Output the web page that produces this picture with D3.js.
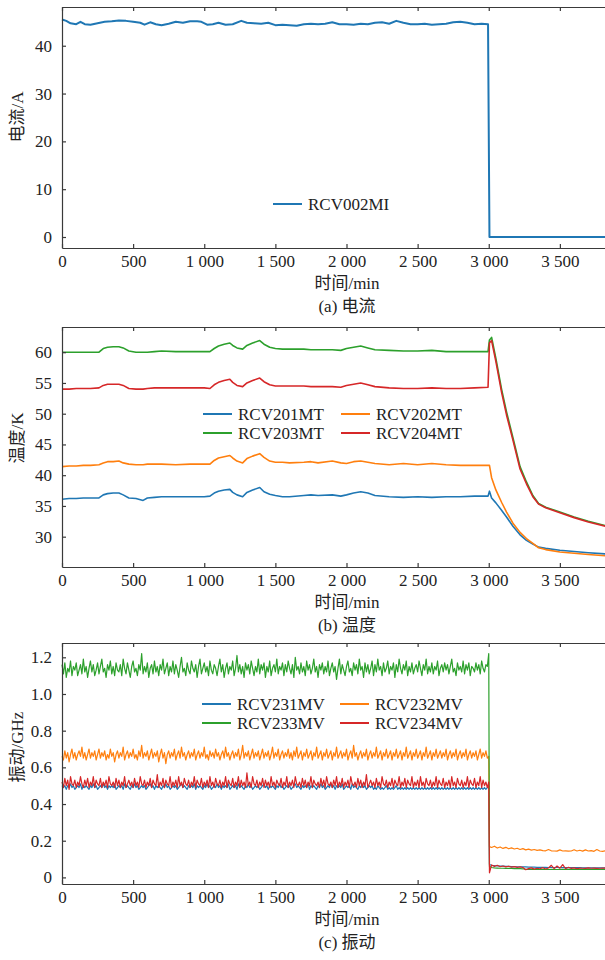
<!DOCTYPE html>
<html>
<head>
<meta charset="utf-8">
<script src="https://cdn.jsdelivr.net/npm/d3@7"></script>
<style>
body{margin:0;background:#fff;}
svg{display:block;font-family:"Liberation Serif","Times New Roman","Noto Sans CJK SC",serif;}
</style>
</head>
<body>
<script>
// ---- shared ticks ----
var xTicks = [0, 500, 1000, 1500, 2000, 2500, 3000, 3500];
var yTicksA = [0, 10, 20, 30, 40];
var yTicksB = [30, 35, 40, 45, 50, 55, 60];
var yTicksC = [0, 0.2, 0.4, 0.6, 0.8, 1.0, 1.2];

// ---- (a) current ----
var timeA = [0,30,60,100,130,160,200,250,300,350,400,450,500,550,580,620,660,700,750,800,
  850,900,950,980,1020,1060,1100,1150,1200,1260,1300,1350,1400,1450,1500,1550,1600,1650,1700,1750,
  1800,1850,1900,1950,2000,2050,2100,2150,2200,2250,2300,2350,2400,2450,2500,2550,2600,2650,2700,2750,
  2800,2850,2900,2950,2995,3005,3820];
var rcv002mi = [45.5,45.2,44.7,44.5,45.0,44.5,44.4,44.7,45.0,45.1,45.3,45.2,45.0,44.8,44.4,44.9,44.5,44.3,44.6,45.0,
  44.8,45.1,45.1,45.0,44.4,44.5,44.8,44.4,44.5,45.2,44.8,44.7,44.6,44.8,44.3,44.4,44.3,44.2,44.5,44.6,
  44.5,44.6,44.9,44.5,44.5,44.4,44.6,44.5,44.8,44.9,44.6,45.2,44.8,44.5,44.5,44.6,44.4,44.5,44.6,44.9,
  45.0,44.8,44.5,44.6,44.5,0,0];

// ---- (b) temperature ----
var timeB = [0,50,100,150,200, 260,290,320,360,400, 430,470,520,570,600, 650,700,800,900,1000,
  1040,1070,1100,1140,1180, 1200,1230,1270,1300,1340, 1390,1420,1460,1500,1550, 1600,1700,1750,1800,1900,
  1960,2000,2050,2100,2150, 2200,2300,2400,2500,2600, 2700,2800,2900,2995,3005, 3020,3050,3090,3125,3170,
  3220,3265,3310,3350,3400, 3500,3600,3700,3820];
var rcv201mt = [36.1,36.2,36.2,36.3,36.3, 36.3,36.8,37.0,37.1,37.1, 36.8,36.3,36.2,35.9,36.3, 36.4,36.5,36.5,36.5,36.5,
  36.6,37.1,37.4,37.6,37.7, 37.2,36.8,36.5,37.2,37.6, 38.0,37.3,36.9,36.7,36.5, 36.5,36.7,36.8,36.7,36.8,
  36.6,36.8,37.1,37.3,37.1, 36.7,36.5,36.4,36.5,36.4, 36.5,36.5,36.6,36.6,37.4, 36.3,35.5,34.3,33.2,31.7,
  30.3,29.4,28.8,28.3,28.1, 27.8,27.6,27.4,27.2];
var rcv202mt = [41.4,41.5,41.5,41.6,41.6, 41.7,42.0,42.2,42.2,42.3, 42.0,41.8,41.7,41.7,41.8, 41.8,41.8,41.7,41.8,41.8,
  41.8,42.4,42.8,43.0,43.2, 42.8,42.3,42.0,42.7,43.1, 43.5,42.9,42.3,42.1,42.1, 42.0,42.1,42.2,42.0,42.3,
  42.0,41.9,42.2,42.3,42.1, 41.9,41.7,41.9,41.7,41.9, 41.7,41.6,41.6,41.6,41.6, 39.6,37.6,35.6,34.0,32.2,
  30.7,29.7,28.9,28.2,27.9, 27.5,27.3,27.1,26.9];
var rcv203mt = [60.0,60.0,60.0,60.0,60.0, 60.0,60.6,60.8,60.9,60.9, 60.7,60.2,60.0,60.0,60.0, 60.1,60.2,60.1,60.1,60.1,
  60.1,60.6,61.0,61.3,61.5, 61.1,60.7,60.5,61.1,61.5, 61.9,61.3,60.8,60.6,60.5, 60.5,60.5,60.4,60.4,60.4,
  60.3,60.6,60.8,61.0,60.7, 60.4,60.3,60.2,60.2,60.3, 60.1,60.1,60.1,60.1,62.0, 62.4,59.0,54.0,50.3,46.1,
  41.4,38.9,36.7,35.4,34.8, 34.0,33.2,32.5,31.8];
var rcv204mt = [54.0,54.0,54.1,54.1,54.1, 54.2,54.6,54.8,54.8,54.8, 54.6,54.1,54.0,54.0,54.1, 54.2,54.2,54.2,54.2,54.2,
  54.1,54.7,55.1,55.4,55.6, 55.1,54.6,54.4,55.0,55.4, 55.8,55.2,54.7,54.5,54.5, 54.5,54.5,54.4,54.4,54.4,
  54.3,54.6,54.8,55.0,54.7, 54.4,54.2,54.1,54.1,54.2, 54.1,54.1,54.2,54.3,61.5, 61.9,58.5,53.5,49.8,45.7,
  41.0,38.6,36.5,35.3,34.7, 33.9,33.1,32.4,31.7];

// ---- (c) vibration: a reading every 10 min up to 3000, every 20 min after shutdown ----
var timeC = d3.range(0, 3001, 10).concat([3005]).concat(d3.range(3020, 3821, 20));
var rcv231mv = [
  0.50,0.49,0.50,0.48,0.50,0.49,0.51,0.49,0.50,0.48, 0.49,0.50,0.49,0.51,0.48,0.50,0.49,0.50,0.49,0.48,
  0.50,0.49,0.51,0.49,0.50,0.48,0.49,0.50,0.49,0.51, 0.49,0.50,0.48,0.50,0.49,0.50,0.49,0.51,0.48,0.49,
  0.50,0.49,0.50,0.48,0.51,0.49,0.50,0.49,0.48,0.50, 0.49,0.51,0.49,0.50,0.48,0.49,0.50,0.49,0.50,0.48,
  0.49,0.50,0.51,0.49,0.50,0.48,0.50,0.49,0.50,0.49, 0.48,0.50,0.49,0.51,0.49,0.50,0.48,0.49,0.50,0.49,
  0.50,0.48,0.49,0.50,0.51,0.49,0.50,0.49,0.48,0.50, 0.49,0.50,0.49,0.51,0.48,0.50,0.49,0.50,0.49,0.48,
  0.50,0.49,0.51,0.49,0.50,0.48,0.49,0.50,0.49,0.51, 0.49,0.50,0.48,0.50,0.49,0.50,0.49,0.51,0.48,0.49,
  0.50,0.49,0.50,0.48,0.51,0.49,0.50,0.49,0.48,0.50, 0.49,0.51,0.49,0.50,0.48,0.49,0.50,0.49,0.50,0.48,
  0.49,0.50,0.51,0.49,0.50,0.48,0.50,0.49,0.50,0.49, 0.48,0.50,0.49,0.51,0.49,0.50,0.48,0.49,0.50,0.49,
  0.50,0.48,0.49,0.50,0.51,0.49,0.50,0.49,0.48,0.50, 0.49,0.50,0.49,0.51,0.48,0.50,0.49,0.50,0.49,0.48,
  0.50,0.49,0.51,0.49,0.50,0.48,0.49,0.50,0.49,0.51, 0.49,0.50,0.48,0.50,0.49,0.50,0.49,0.51,0.48,0.49,
  0.50,0.49,0.50,0.48,0.51,0.49,0.50,0.49,0.48,0.50, 0.49,0.51,0.49,0.50,0.48,0.49,0.50,0.49,0.50,0.48,
  0.49,0.48,0.50,0.49,0.48,0.49,0.48,0.49,0.50,0.48, 0.49,0.48,0.49,0.48,0.49,0.50,0.48,0.49,0.48,0.49,
  0.48,0.49,0.48,0.49,0.48,0.49,0.48,0.49,0.48,0.49, 0.48,0.49,0.48,0.49,0.48,0.49,0.48,0.49,0.48,0.49,
  0.48,0.49,0.48,0.49,0.48,0.49,0.48,0.49,0.48,0.49, 0.48,0.49,0.48,0.49,0.48,0.49,0.48,0.49,0.48,0.49,
  0.48,0.49,0.48,0.49,0.48,0.49,0.48,0.49,0.48,0.49, 0.48,0.49,0.48,0.49,0.48,0.49,0.48,0.49,0.48,0.49,
  0.50,
  0.070,0.066,0.064,0.063,0.062,0.061,0.060,0.060,0.059,0.059, 0.058,0.058,0.057,0.057,0.056,0.056,0.056,0.055,0.055,0.055,
  0.055,0.054,0.054,0.054,0.054,0.054,0.053,0.053,0.053,0.053, 0.053,0.053,0.053,0.052,0.052,0.052,0.052,0.052,0.052,0.052,
  0.052,0.052];
var rcv232mv = [
  0.66,0.64,0.69,0.65,0.68,0.63,0.67,0.70,0.65,0.68, 0.64,0.67,0.69,0.66,0.71,0.65,0.68,0.64,0.67,0.70,
  0.65,0.68,0.66,0.69,0.64,0.67,0.70,0.65,0.68,0.66, 0.69,0.64,0.67,0.65,0.70,0.66,0.68,0.63,0.67,0.69,
  0.65,0.68,0.66,0.71,0.64,0.67,0.69,0.65,0.68,0.66, 0.70,0.65,0.67,0.64,0.69,0.66,0.72,0.65,0.68,0.66,
  0.69,0.64,0.67,0.70,0.65,0.68,0.66,0.69,0.63,0.67, 0.70,0.65,0.68,0.62,0.67,0.69,0.65,0.68,0.66,0.70,
  0.64,0.67,0.69,0.65,0.71,0.66,0.68,0.64,0.67,0.69, 0.65,0.68,0.66,0.70,0.64,0.67,0.69,0.65,0.68,0.66,
  0.71,0.65,0.67,0.64,0.69,0.66,0.68,0.65,0.70,0.66, 0.68,0.64,0.67,0.69,0.65,0.71,0.66,0.68,0.64,0.67,
  0.69,0.65,0.68,0.66,0.70,0.64,0.67,0.72,0.65,0.68, 0.66,0.69,0.64,0.67,0.70,0.65,0.68,0.66,0.69,0.64,
  0.67,0.70,0.65,0.68,0.66,0.69,0.64,0.67,0.71,0.65, 0.68,0.66,0.70,0.64,0.67,0.69,0.65,0.68,0.66,0.70,
  0.65,0.68,0.64,0.69,0.66,0.71,0.65,0.67,0.69,0.64, 0.68,0.66,0.70,0.65,0.67,0.69,0.64,0.68,0.66,0.71,
  0.65,0.67,0.69,0.64,0.68,0.66,0.70,0.65,0.67,0.69, 0.64,0.68,0.66,0.71,0.65,0.67,0.69,0.65,0.68,0.66,
  0.70,0.64,0.67,0.69,0.65,0.72,0.66,0.68,0.64,0.67, 0.69,0.65,0.68,0.66,0.70,0.64,0.67,0.69,0.65,0.68,
  0.66,0.71,0.65,0.67,0.69,0.64,0.68,0.66,0.70,0.65, 0.67,0.69,0.64,0.68,0.66,0.70,0.65,0.67,0.69,0.64,
  0.68,0.66,0.71,0.65,0.67,0.69,0.64,0.68,0.66,0.70, 0.65,0.67,0.69,0.64,0.68,0.66,0.71,0.65,0.67,0.69,
  0.64,0.68,0.66,0.70,0.65,0.67,0.69,0.65,0.68,0.66, 0.70,0.64,0.67,0.69,0.65,0.68,0.66,0.70,0.64,0.67,
  0.69,0.65,0.68,0.66,0.70,0.64,0.67,0.69,0.65,0.68, 0.66,0.69,0.64,0.67,0.70,0.65,0.68,0.66,0.69,0.65,
  0.66,
  0.168,0.163,0.170,0.160,0.166,0.158,0.164,0.156,0.161,0.155, 0.159,0.152,0.157,0.150,0.154,0.149,0.152,0.147,0.150,0.146,
  0.145,0.152,0.145,0.144,0.143,0.150,0.144,0.145,0.143,0.144, 0.151,0.144,0.148,0.143,0.150,0.144,0.146,0.142,0.152,0.144,
  0.142,0.145];
var rcv233mv = [
  1.16,1.11,1.17,1.09,1.14,1.12,1.18,1.10,1.15,1.13, 1.17,1.10,1.13,1.16,1.11,1.19,1.12,1.15,1.09,1.14,
  1.18,1.12,1.16,1.10,1.13,1.17,1.11,1.15,1.19,1.12, 1.14,1.09,1.16,1.13,1.18,1.11,1.15,1.10,1.17,1.13,
  1.12,1.16,1.10,1.19,1.14,1.11,1.17,1.13,1.09,1.15, 1.18,1.12,1.14,1.10,1.16,1.13,1.22,1.11,1.15,1.12,
  1.17,1.09,1.14,1.16,1.11,1.18,1.12,1.15,1.10,1.16, 1.13,1.19,1.11,1.14,1.17,1.10,1.15,1.12,1.18,1.11,
  1.16,1.13,1.09,1.15,1.20,1.12,1.14,1.10,1.17,1.13, 1.11,1.18,1.14,1.12,1.16,1.09,1.15,1.19,1.11,1.14,
  1.17,1.12,1.15,1.10,1.18,1.13,1.11,1.16,1.14,1.10, 1.15,1.19,1.12,1.16,1.09,1.14,1.17,1.11,1.15,1.13,
  1.18,1.10,1.14,1.21,1.12,1.16,1.11,1.15,1.09,1.17, 1.13,1.16,1.11,1.18,1.14,1.10,1.15,1.12,1.19,1.11,
  1.16,1.13,1.17,1.09,1.15,1.12,1.18,1.10,1.14,1.16, 1.12,1.19,1.11,1.15,1.13,1.17,1.10,1.16,1.12,1.18,
  1.14,1.11,1.16,1.09,1.20,1.13,1.15,1.11,1.17,1.12, 1.15,1.10,1.18,1.13,1.16,1.11,1.14,1.19,1.12,1.15,
  1.09,1.16,1.13,1.17,1.11,1.15,1.12,1.18,1.10,1.14, 1.17,1.12,1.15,1.08,1.14,1.19,1.11,1.16,1.13,1.10,
  1.15,1.18,1.12,1.14,1.10,1.17,1.13,1.16,1.11,1.19, 1.13,1.15,1.09,1.17,1.12,1.16,1.11,1.14,1.18,1.10,
  1.16,1.12,1.19,1.13,1.15,1.10,1.17,1.12,1.14,1.18, 1.11,1.15,1.13,1.17,1.09,1.16,1.12,1.19,1.14,1.11,
  1.16,1.13,1.18,1.10,1.15,1.12,1.17,1.11,1.14,1.16, 1.12,1.18,1.14,1.10,1.16,1.13,1.19,1.11,1.15,1.12,
  1.17,1.11,1.15,1.13,1.18,1.10,1.14,1.16,1.12,1.17, 1.13,1.16,1.11,1.15,1.19,1.12,1.14,1.10,1.17,1.13,
  1.15,1.12,1.18,1.11,1.16,1.13,1.17,1.10,1.15,1.14, 1.12,1.17,1.13,1.16,1.11,1.18,1.14,1.12,1.16,1.15,
  1.22,
  0.060,0.054,0.052,0.051,0.050,0.050,0.049,0.049,0.049,0.048, 0.048,0.048,0.047,0.044,0.044,0.044,0.044,0.044,0.043,0.044,
  0.044,0.043,0.044,0.044,0.043,0.044,0.044,0.043,0.044,0.044, 0.043,0.044,0.044,0.043,0.044,0.044,0.043,0.044,0.044,0.043,
  0.044,0.044];
var rcv234mv = [
  0.52,0.49,0.54,0.50,0.53,0.48,0.55,0.51,0.50,0.53, 0.49,0.52,0.50,0.55,0.51,0.49,0.53,0.50,0.54,0.49,
  0.52,0.50,0.55,0.49,0.53,0.51,0.50,0.54,0.49,0.52, 0.50,0.53,0.49,0.55,0.51,0.50,0.52,0.49,0.54,0.50,
  0.53,0.49,0.52,0.50,0.55,0.49,0.51,0.53,0.50,0.52, 0.49,0.54,0.50,0.52,0.49,0.55,0.51,0.50,0.53,0.49,
  0.52,0.50,0.54,0.49,0.53,0.51,0.50,0.56,0.49,0.52, 0.50,0.54,0.49,0.53,0.51,0.50,0.55,0.49,0.52,0.50,
  0.53,0.49,0.55,0.50,0.52,0.49,0.54,0.51,0.50,0.53, 0.49,0.52,0.50,0.55,0.49,0.53,0.51,0.50,0.54,0.49,
  0.52,0.50,0.53,0.49,0.55,0.50,0.52,0.49,0.54,0.51, 0.50,0.53,0.49,0.52,0.50,0.55,0.49,0.53,0.51,0.50,
  0.54,0.49,0.52,0.50,0.55,0.49,0.53,0.50,0.52,0.49, 0.57,0.50,0.52,0.49,0.55,0.51,0.50,0.53,0.49,0.52,
  0.50,0.54,0.49,0.53,0.50,0.52,0.49,0.55,0.50,0.52, 0.49,0.53,0.51,0.50,0.54,0.49,0.52,0.50,0.55,0.49,
  0.52,0.50,0.53,0.49,0.55,0.51,0.50,0.52,0.49,0.54, 0.50,0.53,0.49,0.52,0.50,0.55,0.49,0.53,0.51,0.50,
  0.52,0.49,0.54,0.50,0.53,0.49,0.55,0.51,0.50,0.52, 0.49,0.53,0.50,0.55,0.49,0.52,0.50,0.54,0.49,0.52,
  0.50,0.53,0.49,0.55,0.51,0.50,0.52,0.49,0.54,0.50, 0.53,0.49,0.52,0.50,0.56,0.49,0.51,0.53,0.50,0.52,
  0.49,0.54,0.50,0.52,0.49,0.55,0.51,0.50,0.53,0.49, 0.52,0.50,0.54,0.49,0.53,0.51,0.50,0.55,0.49,0.52,
  0.50,0.54,0.49,0.53,0.51,0.50,0.55,0.49,0.52,0.50, 0.53,0.49,0.55,0.50,0.52,0.49,0.54,0.51,0.50,0.53,
  0.49,0.52,0.50,0.55,0.49,0.53,0.51,0.50,0.54,0.49, 0.52,0.50,0.53,0.49,0.55,0.50,0.52,0.49,0.54,0.51,
  0.50,0.53,0.49,0.52,0.50,0.55,0.49,0.53,0.51,0.50, 0.54,0.49,0.52,0.50,0.55,0.49,0.53,0.50,0.52,0.49,
  0.52,
  0.025,0.068,0.060,0.066,0.058,0.062,0.057,0.061,0.056,0.059, 0.055,0.057,0.054,0.042,0.048,0.052,0.045,0.050,0.047,0.053,
  0.046,0.051,0.066,0.048,0.062,0.050,0.070,0.047,0.055,0.049, 0.052,0.048,0.051,0.050,0.049,0.052,0.050,0.051,0.049,0.050,
  0.051,0.050];

var colors = ["#1f77b4", "#ff7f0e", "#2ca02c", "#d62728"];

var width = 605, height = 960;
var left = 62;
var fmtX = d3.formatLocale({decimal: ".", thousands: " ", grouping: [3]}).format(",");

var x = d3.scaleLinear().domain([0, 4000]).range([left, 631]);

var svg = d3.select("body").append("svg")
  .attr("width", width)
  .attr("height", height);

var panels = [
  {top: 7, bottom: 248, domain: [-2.3, 48.1], ticks: yTicksA, fmt: d3.format("d"),
   ylabel: "电流/A", ylabelY: 117, caption: "(a) 电流", width: 2,
   series: [{name: "RCV002MI", t: timeA, v: rcv002mi, c: colors[0]}],
   legend: {x: 273, y: 204, cols: 1}},
  {top: 327, bottom: 567, domain: [25.07, 64.1], ticks: yTicksB, fmt: d3.format("d"),
   ylabel: "温度/K", ylabelY: 438, caption: "(b) 温度", width: 1.6,
   series: [{name: "RCV201MT", t: timeB, v: rcv201mt, c: colors[0]},
            {name: "RCV202MT", t: timeB, v: rcv202mt, c: colors[1]},
            {name: "RCV203MT", t: timeB, v: rcv203mt, c: colors[2]},
            {name: "RCV204MT", t: timeB, v: rcv204mt, c: colors[3]}],
   legend: {x: 203, y: 414, cols: 2}},
  {top: 643, bottom: 884, domain: [-0.036, 1.278], ticks: yTicksC,
   fmt: function(d){ return d === 0 ? "0" : d3.format(".1f")(d); },
   ylabel: "振动/GHz", ylabelY: 747, caption: "(c) 振动", width: 1.2,
   series: [{name: "RCV231MV", t: timeC, v: rcv231mv, c: colors[0]},
            {name: "RCV232MV", t: timeC, v: rcv232mv, c: colors[1]},
            {name: "RCV233MV", t: timeC, v: rcv233mv, c: colors[2]},
            {name: "RCV234MV", t: timeC, v: rcv234mv, c: colors[3]}],
   legend: {x: 202, y: 704, cols: 2}}
];

panels.forEach(function(p){
  var y = d3.scaleLinear().domain(p.domain).range([p.bottom, p.top]);
  var g = svg.append("g");

  var line = d3.line()
    .x(function(d){ return x(d[0]); })
    .y(function(d){ return y(d[1]); });

  p.series.forEach(function(s){
    var pts = s.t.map(function(t, i){ return [t, s.v[i]]; });
    g.append("path")
      .attr("d", line(pts))
      .attr("fill", "none")
      .attr("stroke", s.c)
      .attr("stroke-width", p.width)
      .attr("stroke-linejoin", "round");
  });

  // axes, ticks pointing inward
  g.append("g").attr("class", "axis").attr("transform", "translate(0," + p.bottom + ")")
    .call(d3.axisBottom(x).tickValues(xTicks).tickFormat(fmtX).tickSizeInner(-4).tickSizeOuter(0).tickPadding(7));
  g.append("g").attr("class", "axis").attr("transform", "translate(0," + p.top + ")")
    .call(d3.axisTop(x).tickValues(xTicks).tickFormat("").tickSizeInner(-4).tickSizeOuter(0));
  g.append("g").attr("class", "axis").attr("transform", "translate(" + left + ",0)")
    .call(d3.axisLeft(y).tickValues(p.ticks).tickFormat(p.fmt).tickSizeInner(-4).tickSizeOuter(0).tickPadding(10));

  g.selectAll(".axis path, .axis line").attr("stroke", "#3a3a3a").attr("stroke-width", 1.2);
  g.selectAll(".axis text").attr("font-size", 17).attr("fill", "#222")
    .attr("font-family", "'Liberation Serif','Times New Roman',serif");

  // labels
  g.append("text")
    .attr("transform", "translate(17," + p.ylabelY + ") rotate(-90)")
    .attr("text-anchor", "middle").attr("dy", "0.35em")
    .attr("font-size", 17).attr("fill", "#222")
    .text(p.ylabel);
  g.append("text")
    .attr("x", 347).attr("y", p.bottom + 41)
    .attr("text-anchor", "middle").attr("font-size", 17).attr("fill", "#222")
    .text("时间/min");
  g.append("text")
    .attr("x", 347).attr("y", p.bottom + 64)
    .attr("text-anchor", "middle").attr("font-size", 17).attr("fill", "#222")
    .text(p.caption);

  // legend
  var lg = g.append("g");
  p.series.forEach(function(s, i){
    var col = i % p.legend.cols, row = Math.floor(i / p.legend.cols);
    var lx = p.legend.x + col * 138, ly = p.legend.y + row * 19;
    lg.append("line")
      .attr("x1", lx).attr("x2", lx + 29).attr("y1", ly).attr("y2", ly)
      .attr("stroke", s.c).attr("stroke-width", 2);
    lg.append("text")
      .attr("x", lx + 35).attr("y", ly).attr("dy", "0.35em")
      .attr("font-size", 17).attr("fill", "#222")
      .text(s.name);
  });
});
</script>
</body>
</html>
